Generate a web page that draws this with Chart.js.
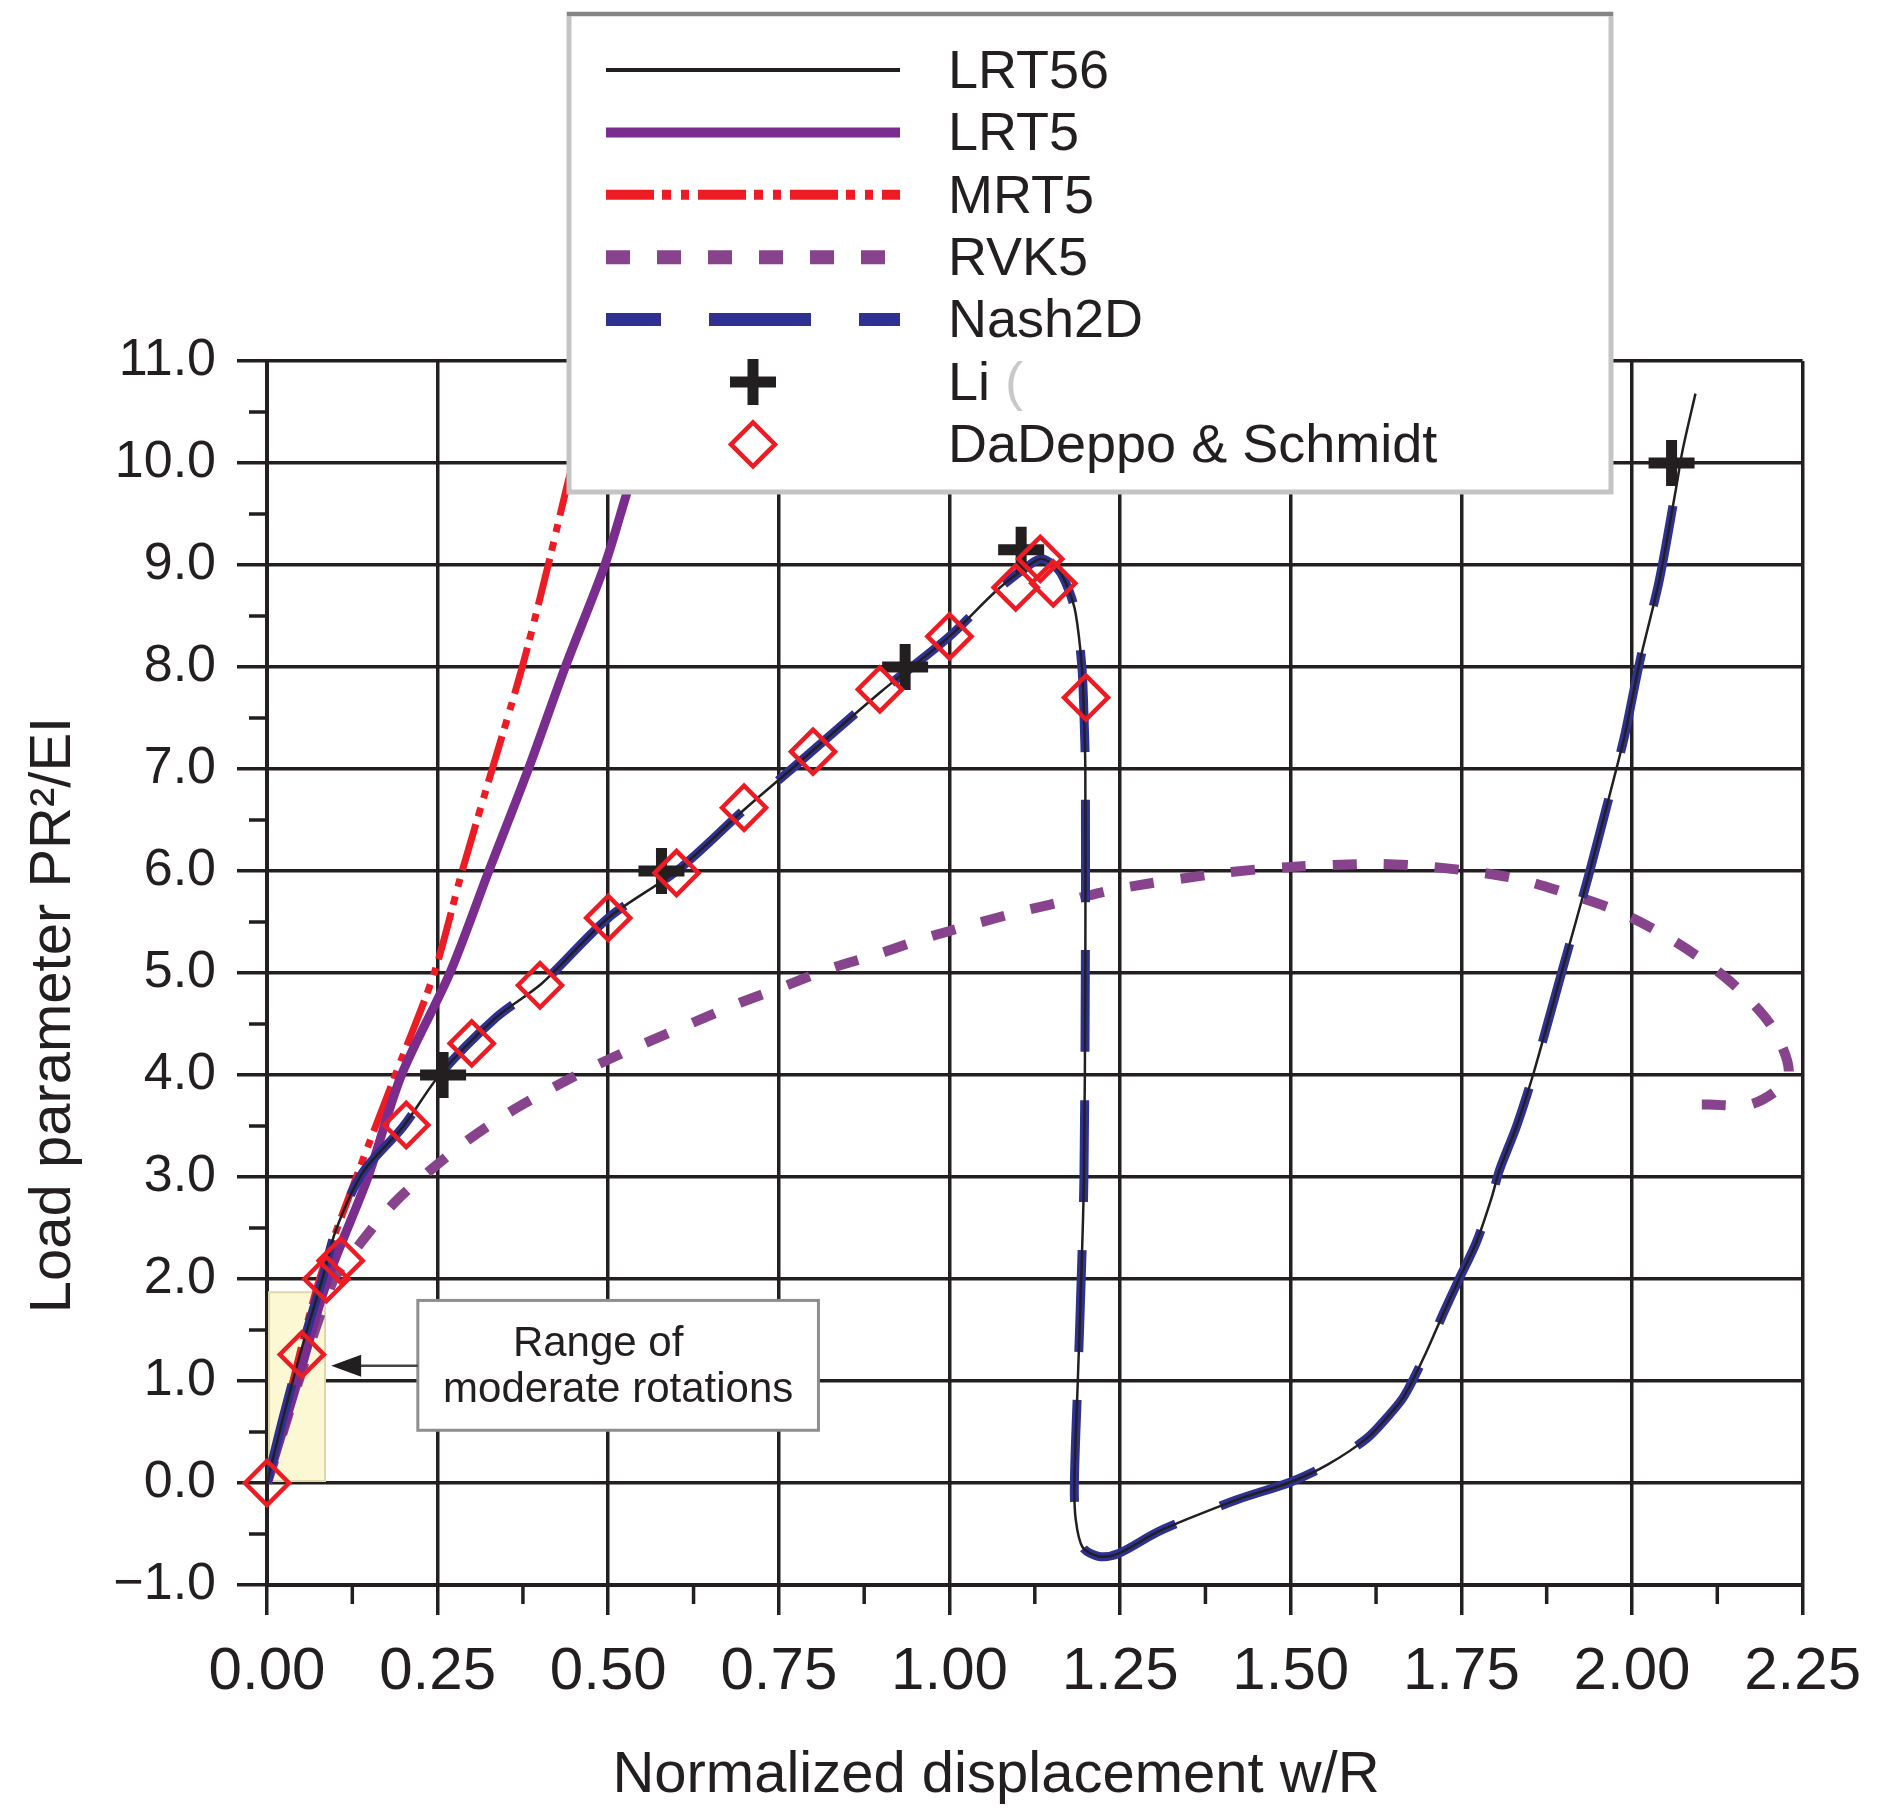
<!DOCTYPE html>
<html>
<head>
<meta charset="utf-8">
<title>Load parameter vs normalized displacement</title>
<script src="https://cdn.jsdelivr.net/npm/chart.js@4.4.1/dist/chart.umd.min.js"></script>
<style>
  html, body { margin: 0; padding: 0; background: #fff; }
  canvas { display: block; }
</style>
</head>
<body>
<canvas id="chart" width="1882" height="1809"></canvas>
<script>
// values: x = w/R, y = PR^2/EI
const lrt56X = [0, 0.024, 0.053, 0.082, 0.101, 0.14, 0.199, 0.254, 0.335, 0.403, 0.50, 0.602, 0.699, 0.772, 0.90,
  1.0, 1.069, 1.117, 1.136, 1.16, 1.175, 1.185, 1.194, 1.197, 1.199, 1.199, 1.197, 1.193, 1.188, 1.183,
  1.185, 1.195, 1.219, 1.248, 1.302, 1.35, 1.423, 1.50, 1.554, 1.612, 1.642, 1.666, 1.697, 1.724, 1.746,
  1.772, 1.794, 1.806, 1.831, 1.855, 1.898, 1.937, 1.979, 1.99, 2.012, 2.04, 2.064, 2.074, 2.093];
const lrt56Y = [0, 0.65, 1.37, 2.02, 2.48, 3.04, 3.49, 4.01, 4.56, 4.90, 5.54, 6.01, 6.60, 7.02, 7.76,
  8.30, 8.75, 9.0, 9.06, 8.95, 8.75, 8.52, 8.0, 7.54, 7.0, 5.0, 3.0, 2.0, 1.0, 0.0,
  -0.36, -0.63, -0.72, -0.69, -0.49, -0.35, -0.16, 0.01, 0.18, 0.44, 0.65, 0.85, 1.26, 1.67, 1.99,
  2.36, 2.79, 3.07, 3.5, 4.0, 5.03, 5.97, 7.05, 7.35, 8.07, 8.85, 9.73, 10.12, 10.68];

// Nash2D lies on the LRT56 trace and stops just below 10
const nash2dX = lrt56X.slice(0, 57);
const nash2dY = lrt56Y.slice(0, 57);

const lrt5X = [0, 0.045, 0.089, 0.148, 0.197, 0.268, 0.325, 0.383, 0.437, 0.495, 0.527, 0.56];
const lrt5Y = [0, 1.0, 2.0, 3.0, 4.0, 5.0, 6.0, 7.0, 8.0, 9.0, 9.7, 10.4];

const mrt5X = [0, 0.038, 0.077, 0.131, 0.188, 0.245, 0.286, 0.330, 0.374, 0.412, 0.439, 0.46];
const mrt5Y = [0, 1.0, 2.0, 3.0, 4.0, 5.0, 6.0, 7.0, 8.0, 9.0, 9.76, 10.3];

const rvk5X = [0, 0.094, 0.138, 0.187, 0.24, 0.296, 0.359, 0.423, 0.487, 0.553, 0.623, 0.69, 0.758, 0.828,
  0.897, 0.968, 1.036, 1.109, 1.18, 1.25, 1.40, 1.5, 1.626, 1.69, 1.762, 1.834, 1.905, 1.974, 2.04,
  2.103, 2.158, 2.207, 2.229, 2.178, 2.111, 2.09];
const rvk5Y = [0, 1.94, 2.36, 2.75, 3.07, 3.37, 3.65, 3.89, 4.11, 4.31, 4.51, 4.70, 4.87, 5.05,
  5.19, 5.35, 5.48, 5.61, 5.72, 5.83, 5.98, 6.04, 6.07, 6.05, 6.0, 5.92, 5.78, 5.62, 5.40,
  5.13, 4.83, 4.45, 3.99, 3.72, 3.71, 3.71];

const liX = [0.258, 0.578, 0.935, 1.105, 2.058];
const liY = [4.0, 6.0, 8.0, 9.15, 10.0];

const ddsX = [0, 0.051, 0.087, 0.108, 0.204, 0.30, 0.40, 0.50, 0.60, 0.699, 0.80, 0.898, 1.0, 1.097, 1.133, 1.152, 1.2];
const ddsY = [0, 1.26, 2.0, 2.18, 3.51, 4.31, 4.88, 5.54, 5.98, 6.62, 7.17, 7.78, 8.30, 8.78, 9.06, 8.82, 7.70];

// axis ranges / tick steps
const xRange = [0, 2.25];
const yRange = [-1, 11];
const xStep = 0.25;
const yStep = 1;

// "range of moderate rotations" shading and the note pointing at it (data units)
const shadeX = [0, 0.085];
const shadeY = [0, 1.87];
const noteX = [0.221, 0.808];
const noteY = [0.517, 1.79];
const noteLines = ['Range of', 'moderate rotations'];
const arrowTipX = 0.094;
const arrowY = 1.15;

const INK = '#231f20';
const SANS = '"Liberation Sans", Arial, sans-serif';
const NARROW = '"Liberation Sans Narrow", "Liberation Sans", Arial, sans-serif';

function pts(xs, ys) {
  return xs.map((x, i) => ({ x: x, y: ys[i] }));
}

function midpoints(scale) {
  const t = scale.ticks.map(k => k.value);
  const out = [];
  for (let i = 0; i < t.length - 1; i++) out.push((t[i] + t[i + 1]) / 2);
  return out;
}

// small unlabeled ticks between the major ones
const minorTicks = {
  id: 'minorTicks',
  beforeDatasetsDraw(chart) {
    const { ctx, chartArea: a, scales: { x, y } } = chart;
    ctx.save();
    ctx.strokeStyle = INK;
    ctx.lineWidth = 3.5;
    ctx.beginPath();
    midpoints(y).forEach(v => {
      const p = y.getPixelForValue(v);
      ctx.moveTo(a.left - 18, p);
      ctx.lineTo(a.left, p);
    });
    midpoints(x).forEach(v => {
      const p = x.getPixelForValue(v);
      ctx.moveTo(p, a.bottom);
      ctx.lineTo(p, a.bottom + 19);
    });
    ctx.stroke();
    ctx.restore();
  }
};

// pale yellow band, drawn over the grid but under the curves
const shading = {
  id: 'shading',
  beforeDatasetsDraw(chart) {
    const { ctx, scales: { x, y } } = chart;
    const l = x.getPixelForValue(shadeX[0]) + 2;
    const r = x.getPixelForValue(shadeX[1]);
    const t = y.getPixelForValue(shadeY[1]);
    const b = y.getPixelForValue(shadeY[0]) - 2;
    ctx.save();
    ctx.fillStyle = '#fdf8d4';
    ctx.fillRect(l, t, r - l, b - t);
    ctx.strokeStyle = '#ddd8aa';
    ctx.lineWidth = 2;
    ctx.strokeRect(l, t, r - l, b - t);
    ctx.restore();
  }
};

const note = {
  id: 'note',
  afterDatasetsDraw(chart) {
    const { ctx, scales: { x, y } } = chart;
    const l = x.getPixelForValue(noteX[0]);
    const r = x.getPixelForValue(noteX[1]);
    const t = y.getPixelForValue(noteY[1]);
    const b = y.getPixelForValue(noteY[0]);
    const h = b - t;
    ctx.save();
    ctx.fillStyle = '#fff';
    ctx.fillRect(l, t, r - l, h);
    ctx.strokeStyle = '#8e8e8e';
    ctx.lineWidth = 3;
    ctx.strokeRect(l, t, r - l, h);

    ctx.fillStyle = INK;
    ctx.font = '42px ' + SANS;
    ctx.textAlign = 'center';
    ctx.textBaseline = 'middle';
    ctx.fillText(noteLines[0], (l + r) / 2 - 20, t + h * 0.34);
    ctx.fillText(noteLines[1], (l + r) / 2, t + h * 0.69);

    // arrow back to the shaded band
    const ay = y.getPixelForValue(arrowY);
    const tip = x.getPixelForValue(arrowTipX);
    ctx.strokeStyle = '#444';
    ctx.lineWidth = 2.5;
    ctx.beginPath();
    ctx.moveTo(l, ay);
    ctx.lineTo(tip + 20, ay);
    ctx.stroke();
    ctx.fillStyle = INK;
    ctx.beginPath();
    ctx.moveTo(tip, ay);
    ctx.lineTo(tip + 30, ay - 11);
    ctx.lineTo(tip + 30, ay + 11);
    ctx.closePath();
    ctx.fill();
    ctx.restore();
  }
};

function drawMarker(ctx, style, cx, cy, color, r, w) {
  ctx.save();
  ctx.strokeStyle = color;
  ctx.lineWidth = w;
  ctx.beginPath();
  if (style === 'cross') {
    ctx.moveTo(cx - r, cy); ctx.lineTo(cx + r, cy);
    ctx.moveTo(cx, cy - r); ctx.lineTo(cx, cy + r);
  } else {
    ctx.moveTo(cx - r, cy); ctx.lineTo(cx, cy - r);
    ctx.lineTo(cx + r, cy); ctx.lineTo(cx, cy + r);
    ctx.closePath();
  }
  ctx.stroke();
  ctx.restore();
}

// boxed legend sitting over the top of the plot
const boxLegend = {
  id: 'boxLegend',
  afterDraw(chart) {
    const ctx = chart.ctx;
    const box = { left: 569, top: 14, right: 1611, bottom: 492 };
    const sampleL = 606, sampleR = 900, textX = 948, row0 = 70, rowGap = 62.4;
    ctx.save();
    ctx.fillStyle = '#fff';
    ctx.fillRect(box.left, box.top, box.right - box.left, box.bottom - box.top);
    ctx.strokeStyle = '#c4c4c4';
    ctx.lineWidth = 5;
    ctx.strokeRect(box.left, box.top, box.right - box.left, box.bottom - box.top);
    ctx.strokeStyle = '#858585';
    ctx.lineWidth = 4;
    ctx.beginPath();
    ctx.moveTo(box.left - 2, box.top);
    ctx.lineTo(box.right + 2, box.top);
    ctx.stroke();

    chart.data.datasets.forEach((ds, i) => {
      const cy = row0 + i * rowGap;
      if (ds.showLine) {
        ctx.save();
        ctx.strokeStyle = ds.borderColor;
        ctx.lineWidth = ds.legendWidth;
        ctx.setLineDash(ds.borderDash || []);
        ctx.lineDashOffset = ds.legendDashOffset || 0;
        ctx.beginPath();
        ctx.moveTo(sampleL, cy);
        ctx.lineTo(sampleR, cy);
        ctx.stroke();
        ctx.restore();
      } else {
        drawMarker(ctx, ds.pointStyle === 'cross' ? 'cross' : 'diamond', (sampleL + sampleR) / 2, cy,
          ds.borderColor, ds.pointRadius, ds.pointBorderWidth);
      }
      ctx.fillStyle = INK;
      ctx.font = '54px ' + SANS;
      ctx.textAlign = 'left';
      ctx.textBaseline = 'middle';
      ctx.fillText(ds.label, textX, cy + 3);
      if (ds.label === 'Li') {
        const w = ctx.measureText('Li ').width;
        ctx.fillStyle = '#c8c8c8';
        ctx.fillText('(', textX + w, cy + 3);
      }
    });
    ctx.restore();
  }
};

// axis titles, placed where the original puts them
const axisTitles = {
  id: 'axisTitles',
  afterDraw(chart) {
    const ctx = chart.ctx;
    ctx.save();
    ctx.fillStyle = INK;
    ctx.font = '58px ' + SANS;
    ctx.textAlign = 'center';
    ctx.textBaseline = 'middle';
    ctx.fillText('Normalized displacement w/R', 996, 1776);
    ctx.translate(54, 1015);
    ctx.rotate(-Math.PI / 2);
    ctx.fillText('Load parameter PR\u00b2/EI', 0, 0);
    ctx.restore();
  }
};

const lineDefaults = { showLine: true, pointRadius: 0, pointHoverRadius: 0, fill: false, tension: 0.3 };

const datasets = [
  Object.assign({}, lineDefaults, {
    label: 'LRT56', data: pts(lrt56X, lrt56Y),
    borderColor: INK, borderWidth: 2.5, legendWidth: 4, order: 2
  }),
  Object.assign({}, lineDefaults, {
    label: 'LRT5', data: pts(lrt5X, lrt5Y),
    borderColor: '#7a2d8f', borderWidth: 9, legendWidth: 10, order: 4
  }),
  Object.assign({}, lineDefaults, {
    label: 'MRT5', data: pts(mrt5X, mrt5Y),
    borderColor: '#ed1c24', borderWidth: 7, legendWidth: 10,
    borderDash: [48, 8, 9, 10, 8, 9], order: 5
  }),
  Object.assign({}, lineDefaults, {
    label: 'RVK5', data: pts(rvk5X, rvk5Y),
    borderColor: '#87438c', borderWidth: 10, legendWidth: 14,
    borderDash: [24, 27], order: 6
  }),
  Object.assign({}, lineDefaults, {
    label: 'Nash2D', data: pts(nash2dX, nash2dY),
    borderColor: '#2e3192', borderWidth: 9, legendWidth: 13,
    borderDash: [102, 48], legendDashOffset: 47, order: 3
  }),
  {
    label: 'Li', data: pts(liX, liY), showLine: false, clip: false,
    pointStyle: 'cross', pointRadius: 23, pointHoverRadius: 23, pointBorderWidth: 11,
    borderColor: INK, backgroundColor: INK, order: 1
  },
  {
    label: 'DaDeppo & Schmidt', data: pts(ddsX, ddsY), showLine: false, clip: false,
    pointStyle: 'rectRot', pointRadius: 22, pointHoverRadius: 22, pointBorderWidth: 4.5,
    borderColor: '#ed1c24', backgroundColor: 'rgba(0,0,0,0)', order: 0
  }
];

new Chart(document.getElementById('chart'), {
  type: 'scatter',
  data: { datasets: datasets },
  options: {
    responsive: false,
    animation: false,
    events: [],
    layout: { padding: { top: 361, right: 71, left: 0, bottom: 0 } },
    plugins: {
      legend: { display: false },
      tooltip: { enabled: false }
    },
    scales: {
      x: {
        type: 'linear',
        min: xRange[0],
        max: xRange[1],
        afterFit(scale) { scale.height = 224; },
        border: { display: true, color: INK, width: 4 },
        grid: { color: INK, lineWidth: 3.5, tickLength: 30, tickWidth: 3.5 },
        ticks: {
          stepSize: xStep,
          padding: 21,
          color: INK,
          font: { family: NARROW, size: 60 },
          maxRotation: 0,
          autoSkip: false,
          callback: v => v.toFixed(2)
        }
      },
      y: {
        type: 'linear',
        min: yRange[0],
        max: yRange[1],
        afterFit(scale) { scale.width = 267; },
        border: { display: true, color: INK, width: 4 },
        grid: { color: INK, lineWidth: 3.5, tickLength: 30, tickWidth: 3.5 },
        ticks: {
          stepSize: yStep,
          padding: 21,
          color: INK,
          font: { family: SANS, size: 52 },
          autoSkip: false,
          callback: v => (v < 0 ? '\u2212' + Math.abs(v).toFixed(1) : v.toFixed(1))
        }
      }
    }
  },
  plugins: [minorTicks, shading, note, boxLegend, axisTitles]
});
</script>
</body>
</html>
